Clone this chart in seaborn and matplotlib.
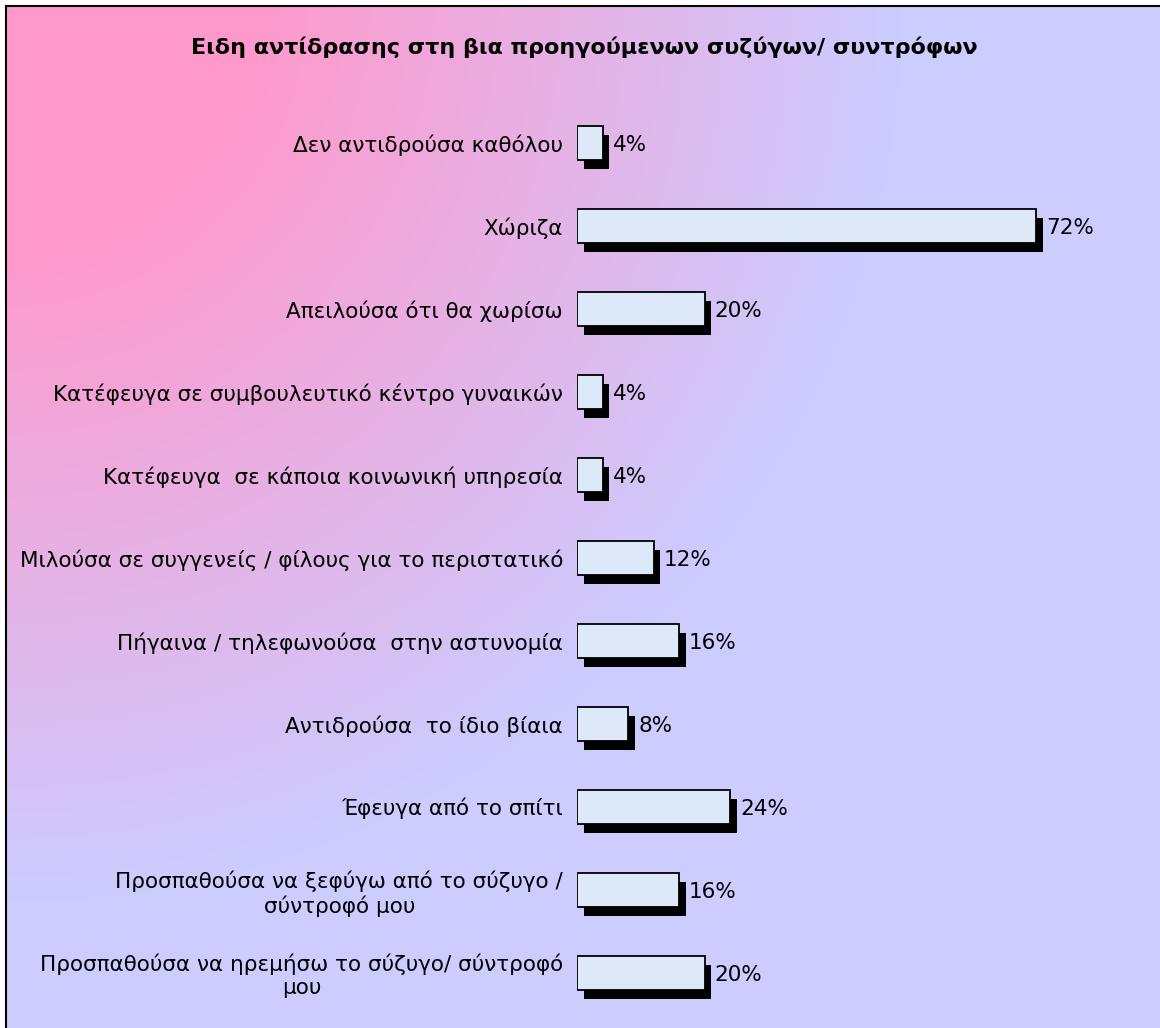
import matplotlib
matplotlib.use("Agg")
import matplotlib.pyplot as plt
import matplotlib.patheffects as pe
import numpy as np
import seaborn as sns

title = "Ειδη αντίδρασης στη βια προηγούμενων συζύγων/ συντρόφων"
labels = [
    "Δεν αντιδρούσα καθόλου",
    "Χώριζα",
    "Απειλούσα ότι θα χωρίσω",
    "Κατέφευγα σε συμβουλευτικό κέντρο γυναικών",
    "Κατέφευγα  σε κάποια κοινωνική υπηρεσία",
    "Μιλούσα σε συγγενείς / φίλους για το περιστατικό",
    "Πήγαινα / τηλεφωνούσα  στην αστυνομία",
    "Αντιδρούσα  το ίδιο βίαια",
    "Έφευγα από το σπίτι",
    "Προσπαθούσα να ξεφύγω από το σύζυγο /\nσύντροφό μου",
    "Προσπαθούσα να ηρεμήσω το σύζυγο/ σύντροφό\nμου",
]
values = [4, 72, 20, 4, 4, 12, 16, 8, 24, 16, 20]

sns.set_style("white")
plt.rcParams['font.family'] = ['DejaVu Sans']

W, H = 1160, 1028
fig = plt.figure(figsize=(W / 100, H / 100), dpi=100)

# radial-ish gradient from the top-left corner: pink -> lavender
bg = fig.add_axes([6 / W, 0, 1 - 6 / W, 1 - 6 / H])
gx, gy = np.meshgrid(np.arange(0, W, 4), np.arange(0, H, 4))
r = np.sqrt(gx ** 2 + gy ** 2)
t = np.clip((r - 250) / 650, 0, 1)
pink = np.array([255, 153, 204]) / 255
lav = np.array([204, 204, 255]) / 255
img = pink[None, None, :] * (1 - t[..., None]) + lav[None, None, :] * t[..., None]
bg.imshow(img, aspect='auto', extent=(0, 1, 1, 0))
bg.set_xlim(0, 1)
bg.set_ylim(1, 0)
bg.set_xticks([])
bg.set_yticks([])
for s in ['right', 'bottom']:
    bg.spines[s].set_visible(False)
for s in ['left', 'top']:
    bg.spines[s].set_color('black')
    bg.spines[s].set_linewidth(1.5)

ax = fig.add_axes([577 / W, 14 / H, 1 - 577 / W, (1014 - 102) / H])
ax.patch.set_alpha(0)
sns.barplot(x=values, y=labels, orient='h', color='#dde9f9', saturation=1,
            edgecolor='black', linewidth=1.3, width=0.41, ax=ax)
for p in ax.patches:
    p.set_path_effects([pe.SimplePatchShadow(offset=(5, -6.5), shadow_rgbFace='black', alpha=1.0),
                        pe.Normal()])
for i, v in enumerate(values):
    ax.annotate(f"{v}%", xy=(v, i), xytext=(10, -2), textcoords='offset pixels',
                ha='left', va='center', fontsize=15.5, color='black')

ax.set_xlim(0, (W - 577) / 6.375)
ax.set_ylim(10.5, -0.5)
ax.xaxis.set_visible(False)
ax.set_ylabel("")
ax.tick_params(axis='y', length=0, pad=10, labelsize=15.5, labelcolor='black')
for tl in ax.get_yticklabels():
    tl.set_multialignment('center')
sns.despine(ax=ax, left=True, bottom=True)

fig.text(584 / W, 1 - 47 / H, title, ha='center', va='center',
         fontsize=16, fontweight='bold', color='black')

fig.savefig("out.png", dpi=100)
